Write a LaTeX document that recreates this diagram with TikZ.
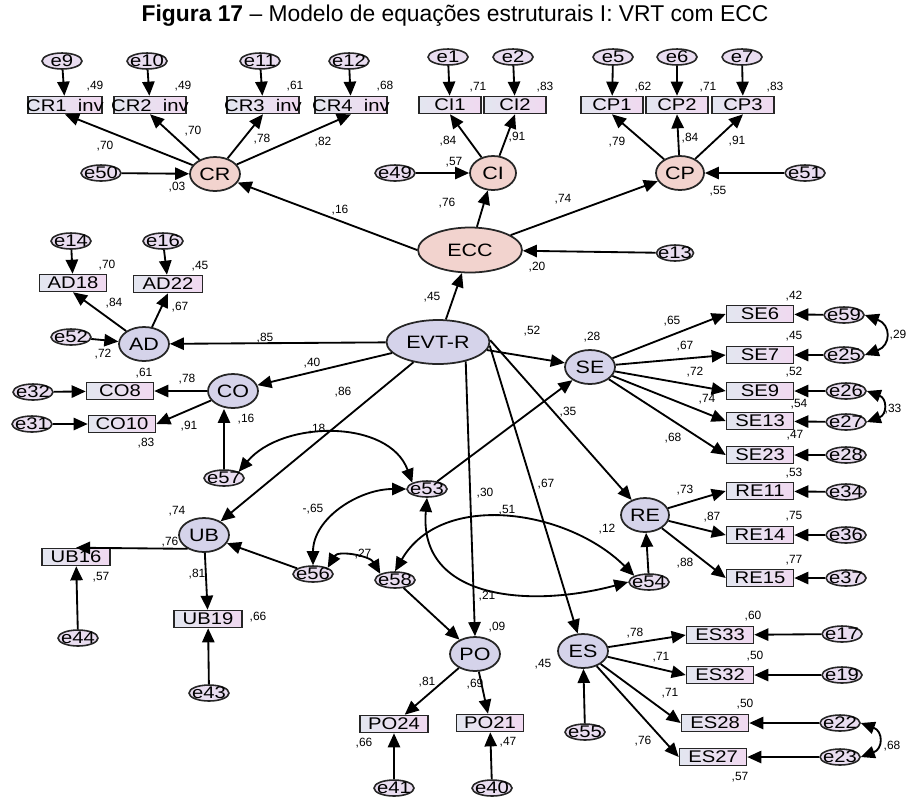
\documentclass[tikz,border=0pt]{standalone}
\usepackage{fontspec}
\setmainfont{Liberation Sans}
\newfontfamily\diagfont[FakeStretch=1.2]{Liberation Sans}
\usepackage{tikz}
\usetikzlibrary{shapes.geometric,arrows.meta}
\definecolor{obsL}{HTML}{E3E6F0}
\definecolor{obsR}{HTML}{F0D9F0}
\definecolor{errC}{HTML}{E9DDF0}
\definecolor{latP}{HTML}{F2D3CE}
\definecolor{latB}{HTML}{D5D3EA}

\begin{document}
\begin{tikzpicture}[x=0.02cm,y=0.02cm,
  obs/.style={draw=black!85,line width=0.9pt,left color=obsL,right color=obsR,minimum width=1.34cm,minimum height=0.34cm,inner sep=-1.5pt,font=\diagfont\fontsize{9.6}{9.6}\selectfont},
  err/.style={ellipse,draw=black!85,line width=0.9pt,fill=errC,minimum width=0.8cm,minimum height=0.32cm,inner sep=-3pt,font=\diagfont\fontsize{9.6}{9.6}\selectfont},
  lat/.style={ellipse,draw=black!85,line width=1pt,fill=latB,minimum width=1cm,minimum height=0.68cm,inner sep=-3pt,font=\diagfont\fontsize{10.2}{10.2}\selectfont},
  est/.style={inner sep=0pt,font=\fontsize{6.8}{6.8}\selectfont},
  arr/.style={-{Triangle[length=8pt,width=7pt]},line width=1.05pt},
  cov/.style={{Triangle[length=8pt,width=7pt]}-{Triangle[length=8pt,width=7pt]},line width=1.05pt}]
\useasboundingbox (0,0) rectangle (909,-796);
\node[font=\fontsize{13}{14}\selectfont] (title) at (455,-16) {\textbf{Figura 17} – Modelo de equações estruturais I: VRT com ECC};

% first order factors, top row
\node[err] (e9) at (62,-61) {e9};
\node[err] (e10) at (147,-61) {e10};
\node[err] (e11) at (260,-61) {e11};
\node[err] (e12) at (349,-61) {e12};
\node[obs,minimum width=1.48cm] (cr1) at (65,-105) {CR1\ \ inv};
\node[obs,minimum width=1.4cm] (cr2) at (150,-105) {CR2\ \ inv};
\node[obs,minimum width=1.4cm] (cr3) at (263,-105) {CR3\ \ inv};
\node[obs,minimum width=1.36cm] (cr4) at (351,-105) {CR4\ \ inv};
\node[lat,fill=latP] (cr) at (215,-174) {CR};
\node[err] (e50) at (101,-173) {e50};

\node[err] (e1) at (448,-57) {e1};
\node[err] (e2) at (513,-57) {e2};
\node[obs,minimum width=1.24cm] (ci1) at (450,-105) {CI1};
\node[obs,minimum width=1.24cm] (ci2) at (515,-105) {CI2};
\node[lat,fill=latP,minimum width=0.92cm] (ci) at (493,-173) {CI};
\node[err] (e49) at (395,-173) {e49};

\node[err] (e5) at (613,-57) {e5};
\node[err] (e6) at (677,-57) {e6};
\node[err] (e7) at (742,-57) {e7};
\node[obs,minimum width=1.24cm] (cp1) at (612,-105) {CP1};
\node[obs,minimum width=1.24cm] (cp2) at (677,-105) {CP2};
\node[obs,minimum width=1.24cm] (cp3) at (743,-105) {CP3};
\node[lat,fill=latP,minimum width=0.96cm] (cp) at (680,-173) {CP};
\node[err] (e51) at (805,-173) {e51};

\node[lat,fill=latP,minimum width=2.08cm,minimum height=0.9cm] (ecc) at (470,-250) {ECC};
\node[err,minimum width=0.74cm] (e13) at (675,-253) {e13};
\node[lat,minimum width=2.06cm,minimum height=0.88cm] (evtr) at (438,-342) {EVT-R};

% left side
\node[err] (e14) at (71,-241) {e14};
\node[err] (e16) at (163,-241) {e16};
\node[obs] (ad18) at (73,-283) {AD18};
\node[obs,minimum width=1.38cm] (ad22) at (168,-284) {AD22};
\node[lat] (ad) at (144,-344) {AD};
\node[err] (e52) at (71,-337) {e52};

\node[lat] (co) at (233,-391) {CO};
\node[obs] (co8) at (120,-391) {CO8};
\node[obs] (co10) at (122,-424) {CO10};
\node[err] (e32) at (33,-392) {e32};
\node[err] (e31) at (32,-424) {e31};
\node[err] (e57) at (224,-478) {e57};

\node[lat] (ub) at (204,-535) {UB};
\node[obs,minimum width=1.36cm] (ub16) at (76,-557) {UB16};
\node[obs,minimum width=1.36cm] (ub19) at (208,-619) {UB19};
\node[err] (e44) at (78,-638) {e44};
\node[err] (e43) at (209,-693) {e43};

% middle
\node[err] (e56) at (313,-574) {e56};
\node[err] (e58) at (395,-580) {e58};
\node[err] (e53) at (427,-489) {e53};
\node[err] (e54) at (649,-582) {e54};

\node[lat] (po) at (475,-654) {PO};
\node[obs,minimum width=1.36cm] (po24) at (394,-724) {PO24};
\node[obs] (po21) at (490,-723) {PO21};
\node[err] (e41) at (394,-788) {e41};
\node[err] (e40) at (492,-788) {e40};

% right side
\node[lat] (se) at (590,-367) {SE};
\node[obs] (se6) at (760,-314) {SE6};
\node[obs] (se7) at (760,-355) {SE7};
\node[obs] (se9) at (760,-391) {SE9};
\node[obs] (se13) at (760,-421) {SE13};
\node[obs] (se23) at (760,-455) {SE23};
\node[err] (e59) at (844,-315) {e59};
\node[err] (e25) at (844,-355) {e25};
\node[err] (e26) at (846,-391) {e26};
\node[err] (e27) at (846,-422) {e27};
\node[err] (e28) at (846,-455) {e28};

\node[lat,minimum width=0.96cm] (re) at (645,-515) {RE};
\node[obs] (re11) at (760,-491) {RE11};
\node[obs] (re14) at (760,-535) {RE14};
\node[obs] (re15) at (760,-578) {RE15};
\node[err] (e34) at (846,-492) {e34};
\node[err] (e36) at (846,-535) {e36};
\node[err] (e37) at (846,-578) {e37};

\node[lat] (es) at (583,-651) {ES};
\node[obs] (es33) at (720,-635) {ES33};
\node[obs] (es32) at (720,-675) {ES32};
\node[obs] (es28) at (715,-723) {ES28};
\node[obs] (es27) at (713,-757) {ES27};
\node[err] (e17) at (842,-634) {e17};
\node[err] (e19) at (842,-675) {e19};
\node[err] (e22) at (840,-723) {e22};
\node[err] (e23) at (840,-757) {e23};
\node[err] (e55) at (585,-732) {e55};

% measurement errors
\foreach \e/\b in {e9/cr1,e10/cr2,e11/cr3,e12/cr4,e1/ci1,e2/ci2,e5/cp1,e6/cp2,e7/cp3,
  e14/ad18,e16/ad22,e32/co8,e31/co10,e44/ub16,e43/ub19,e41/po24,e40/po21,
  e59/se6,e25/se7,e26/se9,e27/se13,e28/se23,e34/re11,e36/re14,e37/re15,
  e17/es33,e19/es32,e22/es28,e23/es27}
  \draw[arr] (\e) -- (\b);

% loadings
\foreach \b in {cr1,cr2,cr3,cr4} \draw[arr] (cr) -- (\b.south);
\foreach \b in {ci1,ci2} \draw[arr] (ci) -- (\b.south);
\foreach \b in {cp1,cp2,cp3} \draw[arr] (cp) -- (\b.south);
\foreach \b in {ad18,ad22} \draw[arr] (ad) -- (\b.south);
\draw[arr] (co) -- (co8.east);
\draw[arr] (co) -- (co10.east);
\draw[arr] (ub.220) -- (ub16.north);
\draw[arr] (ub) -- (ub19);
\draw[arr] (po) -- (po24);
\draw[arr] (po) -- (po21);
\foreach \b in {se6,se7,se9,se13,se23} \draw[arr] (se) -- (\b.west);
\foreach \b in {re11,re14,re15} \draw[arr] (re) -- (\b.west);
\foreach \b in {es33,es32,es28,es27} \draw[arr] (es) -- (\b.west);

% disturbances
\draw[arr] (e50) -- (cr);
\draw[arr] (e49) -- (ci);
\draw[arr] (e51) -- (cp);
\draw[arr] (e13) -- (ecc);
\draw[arr] (e52) -- (ad);
\draw[arr] (e57.north) -- (e57.north |- co.south);
\draw[arr] (e56) -- (ub);
\draw[arr] (e58) -- (po);
\draw[arr] (e53) -- (se);
\draw[arr] (e54) -- (re);
\draw[arr] (e55) -- (es);

% structural paths
\draw[arr] (ecc.west) -- (cr);
\draw[arr] (ecc) -- (ci);
\draw[arr] (ecc) -- (cp);
\draw[arr] (evtr) -- (ecc);
\draw[arr] (evtr) -- (ad);
\draw[arr] (evtr) -- (co);
\draw[arr] (evtr) -- (ub);
\draw[arr] (evtr) -- (se);
\draw[arr] (evtr.-35) -- (po.north);
\draw[arr] (evtr.-4) -- (es);
\draw[arr] (evtr.2) -- (re);

% covariances
\draw[cov] (e57.north east) to[out=50,in=110] (e53.north west);
\draw[cov] (e53.west) to[out=180,in=90] (e56.north);
\draw[cov] (e56.north east) to[out=60,in=120] (e58.north west);
\draw[cov] (e58.north) to[out=60,in=135] (e54.north west);
\draw[cov] (e53.south) to[out=-95,in=195,looseness=1.2] (e54.west);
\draw[cov] (e59.east) to[out=-20,in=20,looseness=1.8] (e25.east);
\draw[cov] (e26.east) to[out=-20,in=20,looseness=1.8] (e27.east);
\draw[cov] (e22.east) to[out=-20,in=20,looseness=1.8] (e23.east);

% estimates
\foreach \px/\py/\val [count=\k] in {95/86/{,49}, 183/86/{,49}, 295/86/{,61}, 385/86/{,68}, 105/146/{,70}, 193/131/{,70}, 262/139/{,78}, 323/142/{,82}, 177/187/{,03},
  478/87/{,71}, 545/87/{,83}, 448/141/{,84}, 517/137/{,91}, 454/162/{,57}, 447/203/{,76},
  643/87/{,62}, 708/87/{,71}, 775/87/{,83}, 617/142/{,79}, 690/138/{,84}, 737/141/{,91}, 718/191/{,55}, 563/199/{,74},
  340/210/{,16}, 537/267/{,20}, 432/297/{,45},
  107/265/{,70}, 200/266/{,45}, 114/303/{,84}, 180/307/{,67}, 103/354/{,72}, 265/338/{,85},
  144/373/{,61}, 187/379/{,78}, 312/363/{,40}, 343/392/{,86}, 246/419/{,16}, 189/426/{,91}, 146/443/{,83}, 317/429/{,18},
  177/511/{,74}, 170/542/{,76}, 101/577/{,57}, 197/574/{,81}, 258/617/{,66}, 313/509/{-,65}, 363/554/{,27}, 427/682/{,81}, 364/743/{,66},
  497/627/{,09}, 487/596/{,21}, 485/493/{,30}, 546/484/{,67}, 507/510/{,51}, 607/529/{,12}, 543/664/{,45}, 475/684/{,69}, 508/742/{,47},
  685/490/{,73}, 712/517/{,87}, 685/563/{,88}, 794/473/{,53}, 794/516/{,75}, 794/560/{,77}, 795/435/{,47}, 673/438/{,68},
  592/337/{,28}, 532/331/{,52}, 794/296/{,42}, 672/321/{,65}, 794/336/{,45}, 685/346/{,67}, 794/372/{,52}, 695/372/{,72}, 799/404/{,54}, 707/399/{,74}, 898/335/{,29}, 893/409/{,33}, 568/412/{,35},
  753/616/{,60}, 635/633/{,78}, 755/656/{,50}, 661/657/{,71}, 745/704/{,50}, 670/693/{,71}, 740/777/{,57}, 643/741/{,76}, 892/746/{,68}}
  \node[est] (w\k) at (\px,-\py) {\val};
\end{tikzpicture}
\end{document}
